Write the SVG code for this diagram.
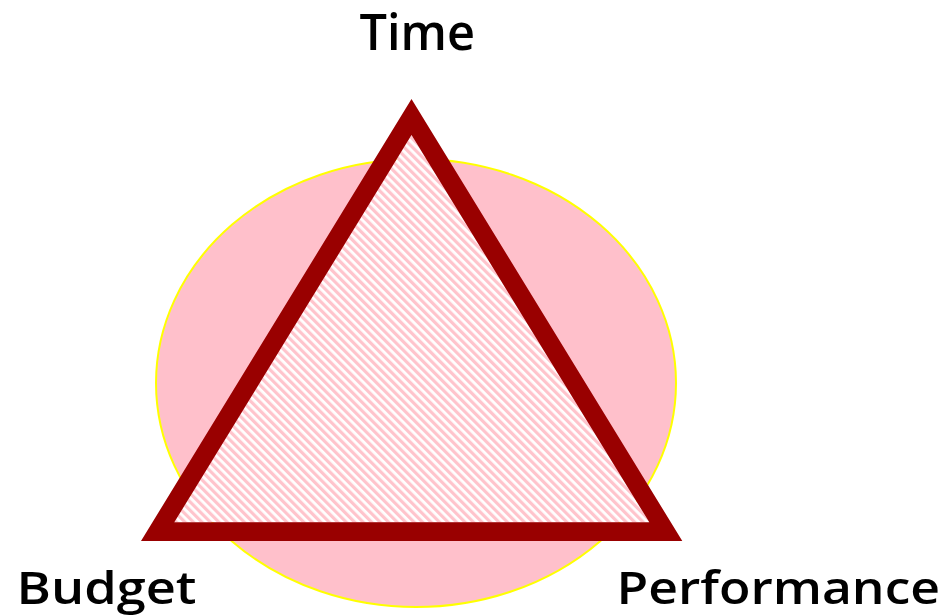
<svg xmlns="http://www.w3.org/2000/svg" width="949" height="616" viewBox="0 0 949 616">
<style>
.lbl{font-family:"Open Sans","DejaVu Sans",sans-serif;font-weight:600;fill:#000;}
</style>
<defs>
<pattern id="hatch" width="6" height="6" patternUnits="userSpaceOnUse" patternTransform="rotate(-45)">
<rect width="6" height="6" fill="#ffffff"/>
<rect width="3.2" height="6" fill="#ffc4cc"/>
</pattern>
</defs>
<rect width="949" height="616" fill="#ffffff"/>
<g id="circle">
<ellipse cx="416" cy="383" rx="260" ry="224" fill="#ffc0cb" stroke="#ffff00" stroke-width="2"/>
</g>
<g id="triangle">
<polygon points="411.5,135 174.3,522.3 649.3,522.3" fill="url(#hatch)"/>
<path d="M411.5,99 L141,541 L682.3,541 Z M411.5,135 L174.3,522.3 L649.3,522.3 Z" fill="#990000" fill-rule="evenodd"/>
</g>
<g id="time"><text class="lbl" x="359.5" y="50" font-size="51" textLength="115.5" lengthAdjust="spacingAndGlyphs">Time</text></g>
<g id="budget"><text class="lbl" x="16.5" y="604" font-size="46" textLength="180" lengthAdjust="spacingAndGlyphs">Budget</text></g>
<g id="performance"><text class="lbl" x="616.5" y="604" font-size="46" textLength="323.5" lengthAdjust="spacingAndGlyphs">Performance</text></g>
</svg>
